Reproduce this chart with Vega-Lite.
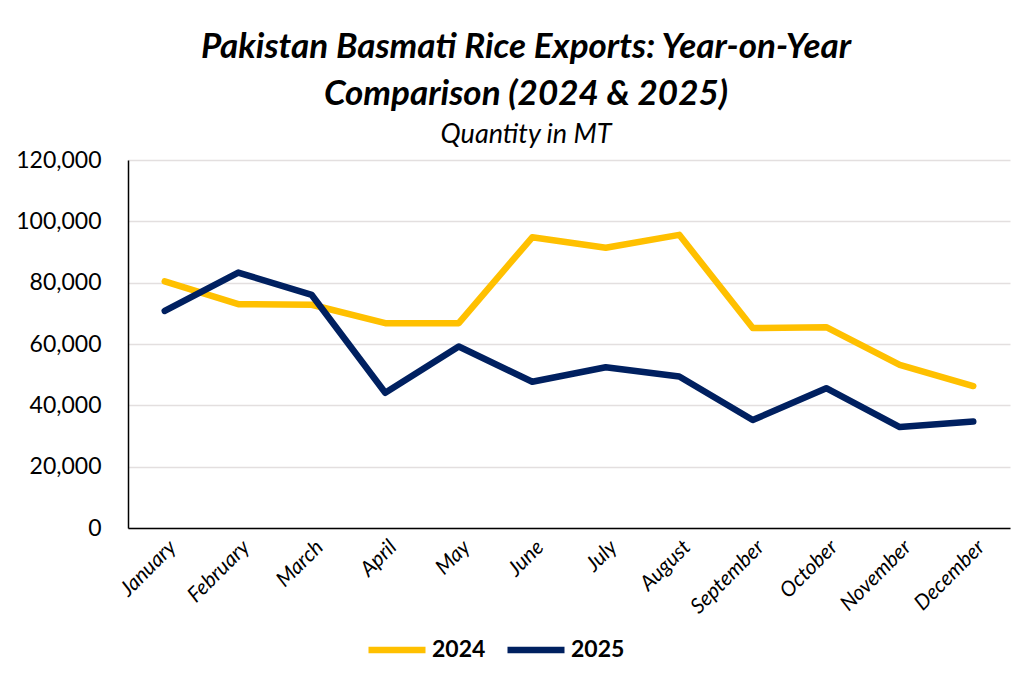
{
  "$schema": "https://vega.github.io/schema/vega-lite/v6.json",
  "autosize": {"type": "none"},
  "width": 882,
  "height": 368,
  "padding": {"left": 128, "top": 160, "right": 19, "bottom": 153},
  "background": "white",
  "title": {
    "text": ["Pakistan Basmati Rice Exports: Year-on-Year", "Comparison (2024 & 2025)"],
    "subtitle": "Quantity in MT",
    "anchor": "middle",
    "dx": -43,
    "font": "Lato",
    "fontSize": 35,
    "fontWeight": "bold",
    "fontStyle": "italic",
    "lineHeight": 47,
    "color": "black",
    "subtitleFont": "Lato",
    "subtitleFontSize": 27,
    "subtitleFontStyle": "italic",
    "subtitleColor": "black",
    "subtitlePadding": 10,
    "offset": 1
  },
  "data": {
    "values": [
      {"month": "January", "year": "2024", "value": 80400},
      {"month": "February", "year": "2024", "value": 73000},
      {"month": "March", "year": "2024", "value": 72800},
      {"month": "April", "year": "2024", "value": 66800},
      {"month": "May", "year": "2024", "value": 66800},
      {"month": "June", "year": "2024", "value": 94800},
      {"month": "July", "year": "2024", "value": 91400},
      {"month": "August", "year": "2024", "value": 95600},
      {"month": "September", "year": "2024", "value": 65200},
      {"month": "October", "year": "2024", "value": 65500},
      {"month": "November", "year": "2024", "value": 53200},
      {"month": "December", "year": "2024", "value": 46300},
      {"month": "January", "year": "2025", "value": 70800},
      {"month": "February", "year": "2025", "value": 83300},
      {"month": "March", "year": "2025", "value": 76000},
      {"month": "April", "year": "2025", "value": 44100},
      {"month": "May", "year": "2025", "value": 59200},
      {"month": "June", "year": "2025", "value": 47700},
      {"month": "July", "year": "2025", "value": 52400},
      {"month": "August", "year": "2025", "value": 49400},
      {"month": "September", "year": "2025", "value": 35200},
      {"month": "October", "year": "2025", "value": 45600},
      {"month": "November", "year": "2025", "value": 32900},
      {"month": "December", "year": "2025", "value": 34700}
    ]
  },
  "mark": {"type": "line", "strokeWidth": 6.5, "strokeCap": "round", "strokeJoin": "round"},
  "encoding": {
    "x": {
      "field": "month",
      "type": "nominal",
      "sort": ["January", "February", "March", "April", "May", "June", "July", "August", "September", "October", "November", "December"],
      "scale": {"type": "point", "padding": 0.5},
      "axis": {
        "title": null,
        "labelAngle": -45,
        "labelFont": "Lato",
        "labelFontSize": 21,
        "labelFontStyle": "italic",
        "labelColor": "black",
        "labelPadding": 8,
        "ticks": false,
        "domainColor": "black",
        "domainWidth": 1.5,
        "grid": false
      }
    },
    "y": {
      "field": "value",
      "type": "quantitative",
      "scale": {"domain": [0, 120000]},
      "axis": {
        "title": null,
        "values": [0, 20000, 40000, 60000, 80000, 100000, 120000],
        "format": ",.0f",
        "labelFont": "Lato",
        "labelFontSize": 23,
        "labelColor": "black",
        "labelPadding": 27,
        "ticks": false,
        "domainColor": "black",
        "domainWidth": 1.5,
        "gridColor": "#e3dfdf",
        "gridWidth": 1.5
      }
    },
    "color": {
      "field": "year",
      "type": "nominal",
      "scale": {"domain": ["2024", "2025"], "range": ["#FFC000", "#002060"]},
      "legend": {
        "title": null,
        "orient": "none",
        "direction": "horizontal",
        "legendX": 237,
        "legendY": 458,
        "symbolType": "stroke",
        "symbolSize": 3250,
        "symbolStrokeWidth": 6.5,
        "labelFont": "Lato",
        "labelFontSize": 23,
        "labelFontWeight": "bold",
        "labelColor": "black",
        "labelOffset": 3,
        "columnPadding": 8
      }
    }
  },
  "config": {"view": {"stroke": null}}
}
